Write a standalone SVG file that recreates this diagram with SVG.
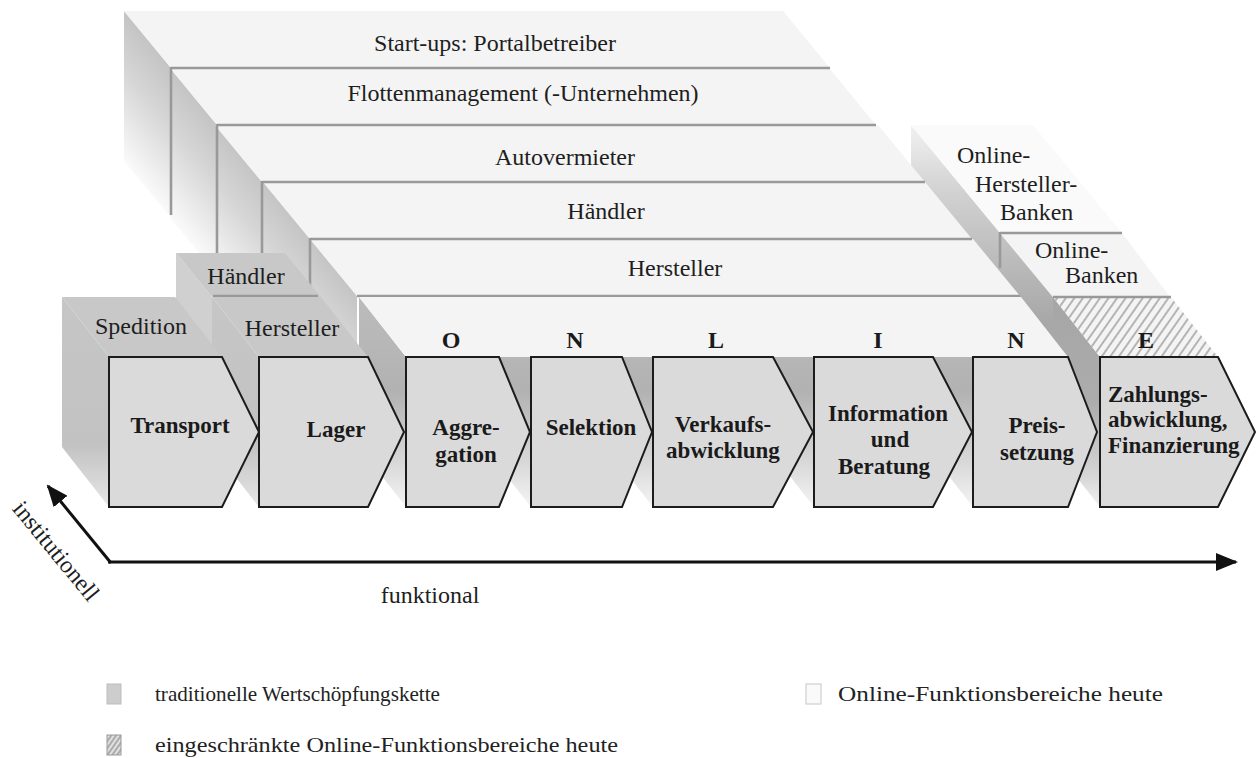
<svg xmlns="http://www.w3.org/2000/svg" width="1257" height="758" viewBox="0 0 1257 758">
<defs>
<linearGradient id="bandG" gradientUnits="userSpaceOnUse" x1="171" y1="68" x2="97" y2="129">
<stop offset="0" stop-color="#c4c4c4"/><stop offset="0.4" stop-color="#d6d6d6"/><stop offset="0.8" stop-color="#eeeeee"/><stop offset="1" stop-color="#fafafa"/>
</linearGradient>
<linearGradient id="sideG" x1="0" y1="0" x2="0" y2="1">
<stop offset="0" stop-color="#bcbcbc"/><stop offset="0.45" stop-color="#b2b2b2"/><stop offset="0.8" stop-color="#dadada"/><stop offset="1" stop-color="#f4f4f4"/>
</linearGradient>
<linearGradient id="darkG" x1="0" y1="0" x2="0" y2="1">
<stop offset="0" stop-color="#a6a6a6"/><stop offset="0.5" stop-color="#acacac"/><stop offset="0.85" stop-color="#d6d6d6"/><stop offset="1" stop-color="#f0f0f0"/>
</linearGradient>
<linearGradient id="zahlG" gradientUnits="userSpaceOnUse" x1="0" y1="105" x2="0" y2="320">
<stop offset="0" stop-color="#fbfbfb"/><stop offset="0.4" stop-color="#d2d2d2"/><stop offset="1" stop-color="#a8a8a8"/>
</linearGradient>
<linearGradient id="leftG" x1="0" y1="0" x2="0" y2="1">
<stop offset="0" stop-color="#c6c6c6"/><stop offset="0.7" stop-color="#c2c2c2"/><stop offset="1" stop-color="#e6e6e6"/>
</linearGradient>
<pattern id="hatch" patternUnits="userSpaceOnUse" width="7" height="7" patternTransform="rotate(35)">
<rect width="7" height="7" fill="#f4f4f4"/>
<line x1="1" y1="0" x2="1" y2="7" stroke="#8a8a8a" stroke-width="1.2"/>
</pattern>
<pattern id="hatchS" patternUnits="userSpaceOnUse" width="4" height="4" patternTransform="rotate(35)">
<rect width="4" height="4" fill="#e0e0e0"/>
<line x1="1" y1="0" x2="1" y2="4" stroke="#777" stroke-width="1"/>
</pattern>
<marker id="arr" markerUnits="userSpaceOnUse" markerWidth="22" markerHeight="18" viewBox="0 0 22 18" refX="20" refY="9" orient="auto">
<path d="M0,0 L22,9 L0,18 z" fill="#111"/>
</marker>
</defs>
<style>
.top{fill:#f4f4f4}
.band{fill:url(#bandG)}
.side{fill:url(#sideG)}
.trad{fill:#c8c8c8}
.ln{stroke:#999999;stroke-width:2.6;fill:none;stroke-linecap:butt}
.chev{fill:#dadada;stroke:#1c1c1c;stroke-width:2}
.t{font-family:"Liberation Serif","Times New Roman",serif;font-size:24px;fill:#1e1e1e}
.b{font-family:"Liberation Serif","Times New Roman",serif;font-size:23px;font-weight:bold;fill:#1a1a1a;text-anchor:middle}
.m{text-anchor:middle}
.axis{stroke:#111;stroke-width:3;fill:none}
.lg{font-family:"Liberation Serif","Times New Roman",serif;font-size:22px;fill:#222}
</style>
<rect width="1257" height="758" fill="#ffffff"/>

<g id="zahlung-stack">
<polygon points="911,125 1000,233 1000,383 911,275" fill="url(#zahlG)"/>
<polygon points="911,125 1033,125 1122,233 1000,233" fill="#fafafa"/>
<polygon points="1000,233 1053,297 1053,447 1000,383" fill="url(#zahlG)"/>
<polygon class="top" points="1000,233 1122,233 1170,297 1053,297"/>
</g>

<g id="online-stack">
<polygon class="band" points="124,11 171,68 171,218 124,161"/>
<polygon class="top" points="124,11 783,11 830,68 171,68"/>
<polygon class="band" points="170,68 217,125 217,275 170,218"/>
<polygon class="top" points="170,68 829,68 876,125 217,125"/>
<polygon class="band" points="215,125 262,182 262,332 215,275"/>
<polygon class="top" points="215,125 878,125 925,182 262,182"/>
<polygon class="band" points="263,182 310,239 310,389 263,332"/>
<polygon class="top" points="263,182 925,182 972,239 310,239"/>
<polygon class="band" points="310,239 357,296 357,446 310,389"/>
<polygon class="top" points="310,239 973,239 1020,296 357,296"/>
</g>

<g id="layer-lines">
<line class="ln" x1="171" y1="68" x2="830" y2="68"/>
<line class="ln" x1="217" y1="125" x2="876" y2="125"/>
<line class="ln" x1="262" y1="182" x2="925" y2="182"/>
<line class="ln" x1="310" y1="239" x2="972" y2="239"/>
<line class="ln" x1="357" y1="296" x2="1020" y2="296"/>
<line class="ln" x1="171" y1="67" x2="171" y2="215"/>
<line class="ln" x1="217" y1="124" x2="217" y2="290"/>
<line class="ln" x1="262" y1="181" x2="262" y2="296"/>
<line class="ln" x1="310" y1="238" x2="310" y2="296"/>
<line class="ln" x1="1000" y1="233" x2="1122" y2="233"/>
<line class="ln" x1="1000" y1="232" x2="1000" y2="268"/>
</g>

<g id="haendler-block">
<polygon points="176,253 212,297 212,447 176,403" fill="#d0d0d0"/>
<polygon class="trad" points="176,253 285,253 321,297 212,297"/>
<line class="ln" x1="213" y1="296" x2="318" y2="296"/>
</g>

<g id="row0-sides">
<polygon points="1053,297 1100,357 1100,507 1053,447" fill="url(#darkG)"/>
<polygon class="side" points="926,297 973,357 973,507 926,447"/>
<polygon class="side" points="767,297 814,357 814,507 767,447"/>
<polygon class="side" points="606,297 653,357 653,507 606,447"/>
<polygon class="side" points="484,297 531,357 531,507 484,447"/>
<polygon class="side" points="359,297 406,357 406,507 359,447"/>
</g>

<g id="row0-tops">
<polygon points="1053,297 1171,297 1218,357 1100,357" fill="url(#hatch)"/>
<line class="ln" x1="1053" y1="297" x2="1171" y2="297"/>
<polygon class="top" points="359,297 1021,297 1068,357 406,357"/>
<polygon points="212,297 259,357 259,507 212,447" fill="url(#leftG)"/>
<polygon class="trad" points="212,297 321,297 368,357 259,357"/>
<polygon points="62,297 109,357 109,507 62,447" fill="url(#leftG)"/>
<polygon class="trad" points="62,297 175,297 222,357 109,357"/>
</g>

<g id="chev-zahlung"><polygon class="chev" points="1100,357 1218,357 1255,432 1218,507 1100,507"/>
<text class="b" x="1108" y="402" style="text-anchor:start">Zahlungs-</text>
<text class="b" x="1108" y="427" style="text-anchor:start">abwicklung,</text>
<text class="b" x="1108" y="453" style="text-anchor:start">Finanzierung</text></g>
<g id="chev-preis"><polygon class="chev" points="973,357 1068,357 1097,432 1068,507 973,507"/>
<text class="b" x="1037" y="433">Preis-</text><text class="b" x="1037" y="460">setzung</text></g>
<g id="chev-info"><polygon class="chev" points="814,357 933,357 972,432 933,507 814,507"/>
<text class="b" x="888" y="421">Information</text><text class="b" x="890" y="447">und</text><text class="b" x="884" y="474">Beratung</text></g>
<g id="chev-verkauf"><polygon class="chev" points="653,357 773,357 813,432 773,507 653,507"/>
<text class="b" x="723" y="432">Verkaufs-</text><text class="b" x="723" y="458">abwicklung</text></g>
<g id="chev-selektion"><polygon class="chev" points="531,357 622,357 652,432 622,507 531,507"/>
<text class="b" x="591" y="435">Selektion</text></g>
<g id="chev-aggregation"><polygon class="chev" points="406,357 499,357 530,432 499,507 406,507"/>
<text class="b" x="466" y="435">Aggre-</text><text class="b" x="466" y="462">gation</text></g>
<g id="chev-lager"><polygon class="chev" points="259,357 368,357 404,432 368,507 259,507"/>
<text class="b" x="336" y="437">Lager</text></g>
<g id="chev-transport"><polygon class="chev" points="109,357 222,357 259,432 222,507 109,507"/>
<text class="b" x="180" y="433">Transport</text></g>

<g id="labels">
<text class="t m" x="495" y="51">Start-ups: Portalbetreiber</text>
<text class="t m" x="523" y="101">Flottenmanagement (-Unternehmen)</text>
<text class="t m" x="565" y="165">Autovermieter</text>
<text class="t m" x="606" y="219">Händler</text>
<text class="t m" x="675" y="276">Hersteller</text>
<text class="t m" x="246" y="284">Händler</text>
<text class="t m" x="141" y="334">Spedition</text>
<text class="t m" x="292" y="336">Hersteller</text>
<text class="t" x="957" y="163">Online-</text>
<text class="t" x="975" y="192">Hersteller-</text>
<text class="t" x="1000" y="220">Banken</text>
<text class="t" x="1035" y="258">Online-</text>
<text class="t" x="1065" y="283">Banken</text>
<text class="b" style="font-size:24px" x="451" y="348">O</text>
<text class="b" style="font-size:24px" x="575" y="348">N</text>
<text class="b" style="font-size:24px" x="716" y="348">L</text>
<text class="b" style="font-size:24px" x="878" y="348">I</text>
<text class="b" style="font-size:24px" x="1016" y="348">N</text>
<text class="b" style="font-size:24px" x="1146" y="348">E</text>
</g>

<g id="connectors">
<line class="axis" x1="108" y1="562" x2="1236" y2="562" marker-end="url(#arr)"/>
<line class="axis" x1="111" y1="563" x2="48" y2="486" marker-end="url(#arr)"/>
</g>
<g id="axis-labels">
<text class="t m" x="430" y="603">funktional</text>
<text class="t m" transform="translate(50,556) rotate(50.5)" x="0" y="0">institutionell</text>
</g>

<g id="legend">
<rect x="107" y="684" width="14" height="20" fill="#cdcdcd" stroke="#bdbdbd" stroke-width="1"/>
<text class="lg" x="155" y="701" textLength="285" lengthAdjust="spacingAndGlyphs">traditionelle Wertschöpfungskette</text>
<rect x="107" y="735" width="14" height="20" fill="url(#hatchS)" stroke="#999" stroke-width="1"/>
<text class="lg" x="155" y="752" textLength="463" lengthAdjust="spacingAndGlyphs">eingeschränkte Online-Funktionsbereiche heute</text>
<rect x="806" y="684" width="15" height="20" fill="#fafafa" stroke="#cfcfcf" stroke-width="1.2"/>
<text class="lg" x="838" y="701" textLength="325" lengthAdjust="spacingAndGlyphs">Online-Funktionsbereiche heute</text>
</g>
</svg>
